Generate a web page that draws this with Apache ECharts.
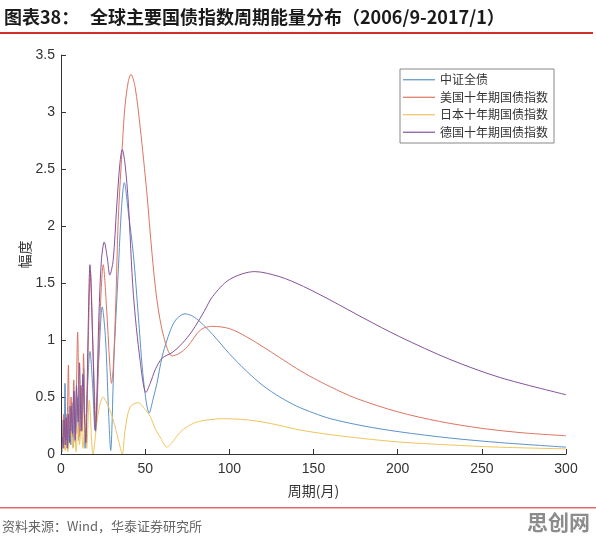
<!DOCTYPE html>
<html>
<head>
<meta charset="utf-8">
<script src="https://cdn.jsdelivr.net/npm/echarts@6/dist/echarts.min.js"></script>
<style>
  html, body { margin: 0; padding: 0; background: #fff; }
  #chart { width: 596px; height: 541px; }
</style>
</head>
<body>
<div id="chart"></div>
<script>
// 图例名称
var seriesNames = ['中证全债', '美国十年期国债指数', '日本十年期国债指数', '德国十年期国债指数']

// 中证全债: 周期(月) / 幅度
var blueX = [0.8, 1.3, 1.8, 2.4, 3.0, 3.6, 4.2, 5.0, 5.8, 6.5, 7.3, 8.0, 8.8, 9.6, 10.5, 11.5, 12.5, 13.5, 14.3, 15.8,
  17.2, 18.8, 20.2, 22.5, 24.5, 26.5, 28.3, 29.5, 31.5, 34, 36, 37.6, 40, 43, 46, 49, 52.4, 55, 57, 60,
  63, 66, 69, 73.6, 78, 82.6, 90, 100, 110, 120, 130, 140, 150, 160, 180, 201, 231, 261, 300]
var blueY = [0.02, 0.3, 0.08, 0.62, 0.12, 0.35, 0.05, 0.42, 0.08, 0.45, 0.06, 0.55, 0.18, 0.5, 0.12, 0.6, 0.28, 0.75, 0.05, 0.6,
  0.9, 0.6, 0.21, 0.85, 1.29, 1.0, 0.35, 0.03, 0.85, 1.6, 2.17, 2.38, 2.12, 1.75, 1.2, 0.65, 0.36, 0.5, 0.62, 0.85,
  1.0, 1.12, 1.19, 1.23, 1.21, 1.16, 1.05, 0.88, 0.73, 0.6, 0.5, 0.42, 0.36, 0.31, 0.245, 0.195, 0.14, 0.1, 0.06]

// 美国十年期国债指数
var redX = [0.8, 1.6, 2.2, 2.8, 3.4, 4.4, 5.2, 6.0, 6.8, 7.6, 8.5, 9.9, 11, 12, 12.7, 13.4, 14.5, 15.5, 17.5, 19.3,
  20.8, 23, 25.1, 27, 29, 30, 31, 32.5, 34, 36.6, 38, 40, 41.6, 44, 47, 51, 54, 57, 61, 66,
  70, 75, 83, 90, 100, 110, 120, 130, 140, 150, 160, 175, 200, 225, 250, 275, 300]
var redY = [0.08, 0.35, 0.05, 0.3, 0.08, 0.78, 0.1, 0.5, 0.15, 0.65, 0.1, 1.07, 0.15, 0.6, 0.2, 0.88, 0.1, 0.5, 1.6, 0.8,
  0.25, 1.15, 1.66, 1.3, 0.78, 0.62, 0.75, 1.3, 2.05, 2.75, 3.05, 3.27, 3.33, 3.22, 2.87, 2.29, 1.77, 1.35, 1.03, 0.86,
  0.88, 0.94, 1.09, 1.12, 1.10, 1.03, 0.94, 0.845, 0.75, 0.665, 0.59, 0.49, 0.37, 0.285, 0.225, 0.185, 0.16]

// 日本十年期国债指数
var yellowX = [0.8, 1.8, 2.5, 3.3, 4.0, 5.0, 6.0, 7.0, 8.0, 9.0, 10, 11, 12, 13, 14.5, 15.3, 16.8, 19, 22, 25,
  28, 31, 34, 36.4, 38, 41, 46, 50, 53, 56, 58.8, 63, 67, 70.7, 75, 80.6, 88, 96, 110, 120,
  130, 142, 160, 180, 201, 230, 260, 300]
var yellowY = [0.03, 0.15, 0.03, 0.12, 0.02, 0.12, 0.2, 0.05, 0.18, 0.02, 0.25, 0.08, 0.3, 0.05, 0.35, 0.05, 0.47, 0.0, 0.35, 0.5,
  0.42, 0.3, 0.13, 0.0, 0.2, 0.41, 0.45, 0.39, 0.33, 0.22, 0.15, 0.06, 0.12, 0.19, 0.24, 0.28, 0.3, 0.31, 0.3, 0.28,
  0.25, 0.21, 0.17, 0.135, 0.105, 0.08, 0.06, 0.045]

// 德国十年期国债指数
var purpleX = [0.8, 1.3, 1.9, 2.5, 3.1, 3.7, 4.4, 5.2, 6.0, 6.8, 7.6, 8.4, 9.2, 10.2, 11.0, 12.0, 13.0, 14.0, 14.8, 16,
  17.2, 18.8, 20.5, 22.5, 24, 25.7, 27.5, 29, 31, 33, 35, 36.4, 38, 40, 43, 47, 50.5, 53, 56, 60,
  66, 72, 78, 85, 90, 100, 115, 130, 144, 160, 180, 201, 231, 261, 300]
var purpleY = [0.15, 0.05, 0.3, 0.08, 0.32, 0.05, 0.35, 0.1, 0.42, 0.18, 0.55, 0.12, 0.6, 0.28, 0.8, 0.2, 0.7, 0.3, 0.1, 1.0,
  1.66, 1.0, 0.2, 1.2, 1.7, 1.86, 1.72, 1.57, 1.7, 2.15, 2.55, 2.67, 2.55, 2.2, 1.4, 0.82, 0.54, 0.62, 0.74, 0.84,
  0.89, 0.97, 1.08, 1.25, 1.38, 1.53, 1.60, 1.555, 1.47, 1.35, 1.19, 1.03, 0.83, 0.67, 0.52]

var xTicks = [0, 50, 100, 150, 200, 250, 300]
var yTicks = [0, 0.5, 1, 1.5, 2, 2.5, 3, 3.5]

var colors = ['#5b93c9', '#de7461', '#efc45e', '#84539a']

function zip(xs, ys) {
  var out = []
  for (var i = 0; i < xs.length; i++) {
    out.push([xs[i], ys[i]])
  }
  return out
}

var chart = echarts.init(document.getElementById('chart'))

var axisColor = '#333'
var labelFont = 'Liberation Sans, Arial, sans-serif'
var cjkFont = 'Noto Sans CJK SC, sans-serif'

var series = [[blueX, blueY], [redX, redY], [yellowX, yellowY], [purpleX, purpleY]].map(function (pair, i) {
  return {
    name: seriesNames[i],
    type: 'line',
    symbol: 'none',
    smooth: 0.3,
    lineStyle: { width: 1, color: colors[i] },
    itemStyle: { color: colors[i] },
    data: zip(pair[0], pair[1])
  }
})

chart.setOption({
  animation: false,
  backgroundColor: '#fff',
  grid: { left: 61, right: 30, top: 55, bottom: 87, containLabel: false },
  xAxis: {
    type: 'value',
    min: xTicks[0],
    max: xTicks[xTicks.length - 1],
    interval: 50,
    name: '周期(月)',
    nameLocation: 'middle',
    nameGap: 30,
    nameTextStyle: { color: axisColor, fontSize: 14, fontFamily: cjkFont },
    axisLine: { show: true, lineStyle: { color: axisColor, width: 1 } },
    axisTick: { show: true, inside: true, length: 5, lineStyle: { color: axisColor } },
    axisLabel: { color: axisColor, fontSize: 14, fontFamily: labelFont, margin: 8 },
    splitLine: { show: false }
  },
  yAxis: {
    type: 'value',
    min: yTicks[0],
    max: yTicks[yTicks.length - 1],
    interval: 0.5,
    name: '幅度',
    nameLocation: 'middle',
    nameGap: 29,
    nameMoveOverlap: false,
    nameRotate: 90,
    nameTextStyle: { color: axisColor, fontSize: 14, fontFamily: cjkFont },
    axisLine: { show: true, lineStyle: { color: axisColor, width: 1 } },
    axisTick: { show: true, inside: true, length: 5, lineStyle: { color: axisColor } },
    axisLabel: { color: axisColor, fontSize: 14, fontFamily: labelFont, margin: 6 },
    splitLine: { show: false }
  },
  legend: {
    data: seriesNames,
    orient: 'vertical',
    left: 400,
    top: 69,
    padding: [4, 6, 4, 3],
    itemGap: 4,
    itemWidth: 32,
    itemHeight: 1.2,
    icon: 'rect',
    borderColor: '#888',
    borderWidth: 1,
    borderRadius: 0,
    backgroundColor: '#fff',
    textStyle: { color: '#333', fontSize: 12, lineHeight: 13.5, fontFamily: cjkFont }
  },
  graphic: [
    {
      type: 'text', left: 4, top: 8,
      style: { text: '图表38：', fill: '#1a1a1a', font: 'bold 18px Noto Sans CJK SC' }
    },
    {
      type: 'text', left: 90, top: 8,
      style: { text: '全球主要国债指数周期能量分布（2006/9-2017/1）', fill: '#1a1a1a', font: 'bold 18px Noto Sans CJK SC' }
    },
    {
      type: 'rect', left: 0, top: 32,
      shape: { width: 593, height: 2 },
      style: { fill: '#d0302a' }
    },
    {
      type: 'rect', left: 0, top: 507,
      shape: { width: 596, height: 1.5 },
      style: { fill: '#e06a6a' }
    },
    {
      type: 'text', left: 2, top: 520,
      style: { text: '资料来源：Wind，华泰证券研究所', fill: '#666', font: '13px Noto Sans CJK SC' }
    },
    {
      type: 'text', right: 6, top: 512,
      style: { text: '思创网', fill: '#8c8c8c', font: 'bold 21px Noto Sans CJK SC' }
    }
  ],
  series: series
})
</script>
</body>
</html>
